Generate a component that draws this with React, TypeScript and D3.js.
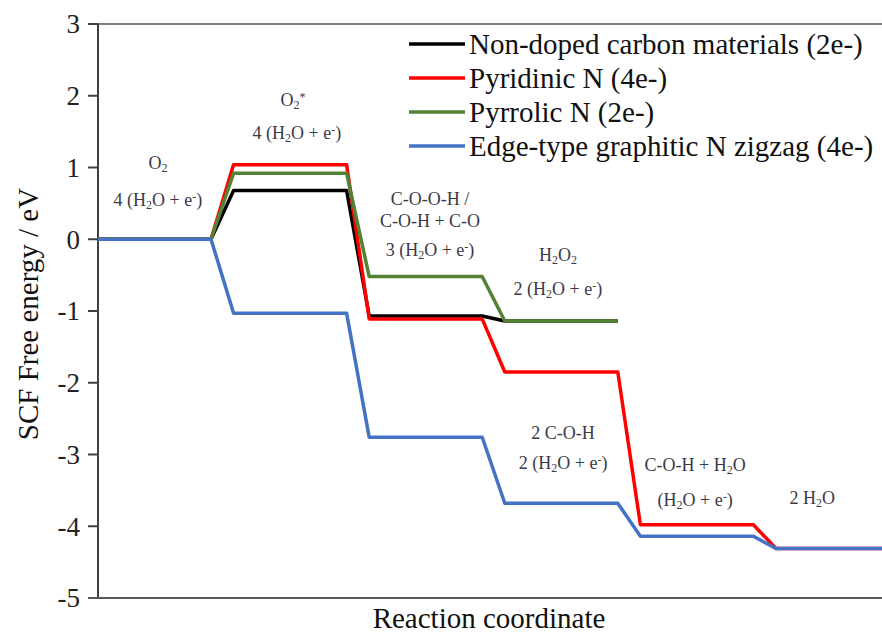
import React from "react";
import * as d3 from "d3";

// ---- data ----
const levelStarts = [0, 6, 12, 18, 24, 30];
const levelEnds = [5, 11, 17, 23, 29, 35];

const seriesNames = [
  "Non-doped carbon materials (2e-)",
  "Pyridinic N (4e-)",
  "Pyrrolic N (2e-)",
  "Edge-type graphitic N zigzag (4e-)",
];
const seriesColors = ["#000000", "#ff0000", "#548235", "#4472c4"];
const nonDoped = [0, 0.68, -1.07, -1.14];
const pyridinic = [0, 1.04, -1.11, -1.85, -3.98, -4.31];
const pyrrolic = [0, 0.92, -0.52, -1.14];
const graphitic = [0, -1.03, -2.76, -3.68, -4.14, -4.31];
const seriesValues = [nonDoped, pyridinic, pyrrolic, graphitic];

const yTicks = [3, 2, 1, 0, -1, -2, -3, -4, -5];

type Part = { t: string; sub?: boolean; sup?: boolean };
const H2Oe = (n: string): Part[] => [
  { t: n + "(H" },
  { t: "2", sub: true },
  { t: "O + e" },
  { t: "-", sup: true },
  { t: ")" },
];
const annotations: { x: number; y: number; parts: Part[] }[] = [
  { x: 2.65, y: 0.98, parts: [{ t: "O" }, { t: "2", sub: true }] },
  { x: 2.65, y: 0.46, parts: H2Oe("4 ") },
  { x: 8.63, y: 1.86, parts: [{ t: "O" }, { t: "2", sub: true }, { t: "*", sup: true }] },
  { x: 8.8, y: 1.4, parts: H2Oe("4 ") },
  { x: 14.69, y: 0.48, parts: [{ t: "C-O-O-H /" }] },
  { x: 14.69, y: 0.17, parts: [{ t: "C-O-H + C-O" }] },
  { x: 14.69, y: -0.23, parts: H2Oe("3 ") },
  { x: 20.35, y: -0.3, parts: [{ t: "H" }, { t: "2", sub: true }, { t: "O" }, { t: "2", sub: true }] },
  { x: 20.35, y: -0.78, parts: H2Oe("2 ") },
  { x: 20.58, y: -2.78, parts: [{ t: "2 C-O-H" }] },
  { x: 20.58, y: -3.2, parts: H2Oe("2 ") },
  { x: 26.42, y: -3.23, parts: [{ t: "C-O-H + H" }, { t: "2", sub: true }, { t: "O" }] },
  { x: 26.42, y: -3.72, parts: H2Oe("") },
  { x: 31.6, y: -3.69, parts: [{ t: "2 H" }, { t: "2", sub: true }, { t: "O" }] },
];

const W = 882;
const H = 633;
const serif = "'Liberation Serif', 'DejaVu Serif', serif";

export default function App() {
  const x = d3.scaleLinear().domain([0, 35]).range([98, 98 + 35 * 22.6]);
  const y = d3.scaleLinear().domain([-5, 3]).range([598, 24]);
  const line = d3
    .line<[number, number]>()
    .x((d) => x(d[0]))
    .y((d) => y(d[1]));

  const pts = (vals: number[]) =>
    vals.flatMap((v, i) => [
      [levelStarts[i], v] as [number, number],
      [levelEnds[i], v] as [number, number],
    ]);

  return (
    <svg
      width={W}
      height={H}
      style={{ position: "absolute", left: 0, top: 0, background: "#fff" }}
    >
      <rect width={W} height={H} fill="#fff" />
      {/* top border */}
      <line x1={88} x2={W} y1={y(3)} y2={y(3)} stroke="#7f7f7f" strokeWidth={2} />
      {/* y axis */}
      <line x1={x(0)} x2={x(0)} y1={y(3)} y2={y(-5)} stroke="#404040" strokeWidth={2} />
      {yTicks.map((t) => (
        <g key={t}>
          <line x1={88} x2={x(0)} y1={y(t)} y2={y(t)} stroke="#404040" strokeWidth={2} />
          <text
            x={80}
            y={y(t)}
            dy="0.35em"
            textAnchor="end"
            fontFamily={serif}
            fontSize={27}
            fill="#222"
          >
            {t}
          </text>
        </g>
      ))}
      {/* x axis */}
      <line x1={88} x2={W} y1={y(-5)} y2={y(-5)} stroke="#595959" strokeWidth={2} />

      {/* series */}
      {seriesValues.map((vals, i) => (
        <path
          key={i}
          d={line(pts(vals)) || ""}
          fill="none"
          stroke={seriesColors[i]}
          strokeWidth={3.5}
          strokeLinejoin="round"
        />
      ))}

      {/* annotations */}
      {annotations.map((a, i) => (
        <text
          key={i}
          x={x(a.x)}
          y={y(a.y)}
          textAnchor="middle"
          fontFamily={serif}
          fontSize={18}
          fill="#3a3a48"
        >
          {a.parts.map((p, j) => (
            <tspan
              key={j}
              fontSize={p.sub || p.sup ? 12 : 18}
              baselineShift={p.sub ? "-25%" : p.sup ? "45%" : undefined}
            >
              {p.t}
            </tspan>
          ))}
        </text>
      ))}

      {/* legend */}
      {seriesNames.map((n, i) => (
        <g key={n}>
          <line
            x1={409}
            x2={465}
            y1={44 + i * 34}
            y2={44 + i * 34}
            stroke={seriesColors[i]}
            strokeWidth={3.5}
          />
          <text
            x={469}
            y={44 + i * 34}
            dy="0.35em"
            fontFamily={serif}
            fontSize={29}
            fill="#111"
          >
            {n}
          </text>
        </g>
      ))}

      {/* axis titles */}
      <text
        x={489}
        y={628}
        textAnchor="middle"
        fontFamily={serif}
        fontSize={29}
        fill="#111"
      >
        Reaction coordinate
      </text>
      <text
        transform={`translate(38, 314) rotate(-90)`}
        textAnchor="middle"
        fontFamily={serif}
        fontSize={29}
        fill="#111"
      >
        SCF Free energy / eV
      </text>
    </svg>
  );
}
